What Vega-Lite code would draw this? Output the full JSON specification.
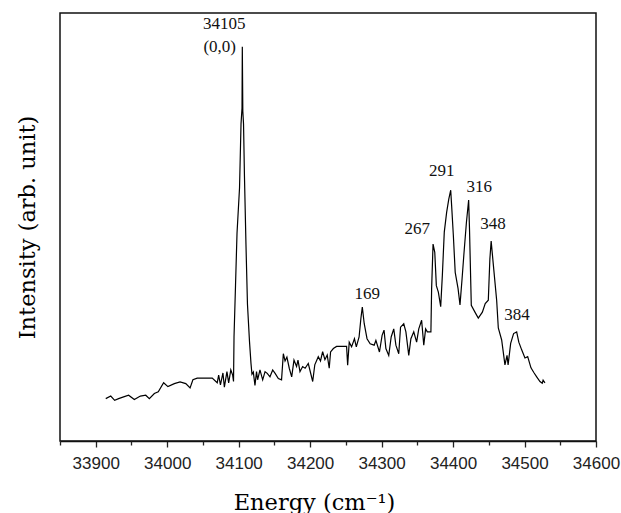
{
  "$schema": "https://vega.github.io/schema/vega-lite/v6.json",
  "width": 536,
  "height": 428,
  "autosize": "none",
  "padding": {"left": 60, "top": 13, "right": 25, "bottom": 72},
  "background": "white",
  "config": {
    "view": {"stroke": "#111", "strokeWidth": 1.5},
    "axis": {"grid": false}
  },
  "resolve": {"axis": {"x": "independent"}},
  "datasets": {
    "spectrum": [
      {"energy": 33914, "intensity": 9.9}, {"energy": 33921, "intensity": 10.5}, {"energy": 33926.5, "intensity": 9.5},
      {"energy": 33932, "intensity": 9.9}, {"energy": 33939, "intensity": 10.3}, {"energy": 33946, "intensity": 10.7},
      {"energy": 33954, "intensity": 9.7}, {"energy": 33962.5, "intensity": 10.5}, {"energy": 33970, "intensity": 10.7},
      {"energy": 33975, "intensity": 9.9}, {"energy": 33982, "intensity": 11.1}, {"energy": 33987.5, "intensity": 11.5},
      {"energy": 33995, "intensity": 13.6}, {"energy": 34001, "intensity": 12.7}, {"energy": 34010, "intensity": 13.4},
      {"energy": 34018, "intensity": 13.8}, {"energy": 34026, "intensity": 13.4}, {"energy": 34032, "intensity": 12.4},
      {"energy": 34036, "intensity": 14.3}, {"energy": 34042, "intensity": 14.7}, {"energy": 34063, "intensity": 14.7},
      {"energy": 34070, "intensity": 13.6}, {"energy": 34072, "intensity": 15.4}, {"energy": 34074.5, "intensity": 13.1},
      {"energy": 34078, "intensity": 15.9}, {"energy": 34080, "intensity": 12.6}, {"energy": 34083.6, "intensity": 16.2},
      {"energy": 34086, "intensity": 13.6}, {"energy": 34089, "intensity": 16.6}, {"energy": 34091.6, "intensity": 15.4},
      {"energy": 34092.8, "intensity": 13.9},
      {"energy": 34093.5, "intensity": 24.3}, {"energy": 34095.6, "intensity": 36.4}, {"energy": 34097.7, "intensity": 48.6},
      {"energy": 34101.2, "intensity": 59.1}, {"energy": 34103.3, "intensity": 74.1}, {"energy": 34104.7, "intensity": 77.8},
      {"energy": 34105.1, "intensity": 92.1}, {"energy": 34105.8, "intensity": 77.1}, {"energy": 34106.8, "intensity": 74.1},
      {"energy": 34108.1, "intensity": 61.9}, {"energy": 34110.2, "intensity": 46.0}, {"energy": 34112.3, "intensity": 32.0},
      {"energy": 34115.1, "intensity": 23.4}, {"energy": 34117.2, "intensity": 18.2}, {"energy": 34118.6, "intensity": 15.6},
      {"energy": 34120.5, "intensity": 16.1}, {"energy": 34122.8, "intensity": 13.0}, {"energy": 34125, "intensity": 16.2},
      {"energy": 34126.5, "intensity": 14.3}, {"energy": 34129.8, "intensity": 16.6}, {"energy": 34133.6, "intensity": 14.3},
      {"energy": 34136.9, "intensity": 16.2}, {"energy": 34140, "intensity": 15.8}, {"energy": 34143.8, "intensity": 15.0},
      {"energy": 34147.6, "intensity": 16.6}, {"energy": 34151, "intensity": 15.8}, {"energy": 34155.5, "intensity": 14.6},
      {"energy": 34160, "intensity": 14.3}, {"energy": 34162.5, "intensity": 20.4}, {"energy": 34164.9, "intensity": 18.7},
      {"energy": 34167.5, "intensity": 19.6}, {"energy": 34170.8, "intensity": 17.0}, {"energy": 34174.2, "intensity": 15.0},
      {"energy": 34177.4, "intensity": 18.9}, {"energy": 34181, "intensity": 17.4}, {"energy": 34183, "intensity": 18.9},
      {"energy": 34185.8, "intensity": 16.2}, {"energy": 34189.5, "intensity": 17.4}, {"energy": 34193, "intensity": 17.0},
      {"energy": 34197.4, "intensity": 18.1}, {"energy": 34203.6, "intensity": 13.9}, {"energy": 34206.5, "intensity": 17.8},
      {"energy": 34211.4, "intensity": 19.7}, {"energy": 34214.5, "intensity": 18.7}, {"energy": 34217.5, "intensity": 20.9},
      {"energy": 34220.7, "intensity": 19.0}, {"energy": 34223.9, "intensity": 20.1}, {"energy": 34226.7, "intensity": 17.0},
      {"energy": 34228.6, "intensity": 20.8}, {"energy": 34232.5, "intensity": 21.6}, {"energy": 34237, "intensity": 22.1},
      {"energy": 34251, "intensity": 22.1}, {"energy": 34252.5, "intensity": 17.7}, {"energy": 34254.7, "intensity": 23.1},
      {"energy": 34258, "intensity": 22.0}, {"energy": 34262, "intensity": 23.9}, {"energy": 34264.6, "intensity": 22.0},
      {"energy": 34268.5, "intensity": 24.3}, {"energy": 34271, "intensity": 28.6}, {"energy": 34273, "intensity": 31.3},
      {"energy": 34275.7, "intensity": 27.4}, {"energy": 34279.6, "intensity": 23.9}, {"energy": 34284, "intensity": 22.7},
      {"energy": 34289.6, "intensity": 22.4}, {"energy": 34292, "intensity": 23.5}, {"energy": 34297, "intensity": 20.8},
      {"energy": 34300.7, "intensity": 24.7}, {"energy": 34303.4, "intensity": 25.9}, {"energy": 34306, "intensity": 21.6},
      {"energy": 34310, "intensity": 20.0}, {"energy": 34313.4, "intensity": 24.3}, {"energy": 34317, "intensity": 26.2},
      {"energy": 34320, "intensity": 22.4}, {"energy": 34324, "intensity": 20.4}, {"energy": 34326.5, "intensity": 26.6},
      {"energy": 34331, "intensity": 27.4}, {"energy": 34334, "intensity": 25.5}, {"energy": 34338, "intensity": 20.0},
      {"energy": 34341, "intensity": 23.9}, {"energy": 34345, "intensity": 25.5}, {"energy": 34349, "intensity": 23.1},
      {"energy": 34352, "intensity": 26.2}, {"energy": 34356, "intensity": 28.2}, {"energy": 34359, "intensity": 22.4},
      {"energy": 34361.6, "intensity": 26.2}, {"energy": 34364, "intensity": 25.5}, {"energy": 34369, "intensity": 25.5},
      {"energy": 34370, "intensity": 35.6}, {"energy": 34372, "intensity": 46.0}, {"energy": 34374.4, "intensity": 44.1},
      {"energy": 34376.6, "intensity": 36.3}, {"energy": 34379.4, "intensity": 34.8}, {"energy": 34382.7, "intensity": 31.4},
      {"energy": 34385, "intensity": 38.7}, {"energy": 34387.7, "intensity": 48.8}, {"energy": 34391, "intensity": 53.4},
      {"energy": 34394, "intensity": 56.5}, {"energy": 34396.7, "intensity": 58.6}, {"energy": 34398, "intensity": 55.0},
      {"energy": 34400.4, "intensity": 48.0}, {"energy": 34403, "intensity": 39.4}, {"energy": 34407, "intensity": 35.6},
      {"energy": 34409.7, "intensity": 31.8}, {"energy": 34412.6, "intensity": 37.9}, {"energy": 34415, "intensity": 43.3},
      {"energy": 34418.7, "intensity": 51.1}, {"energy": 34421.8, "intensity": 56.3}, {"energy": 34423, "intensity": 49.5},
      {"energy": 34425.5, "intensity": 31.7}, {"energy": 34431, "intensity": 30.0}, {"energy": 34435.3, "intensity": 28.7},
      {"energy": 34441, "intensity": 30.1}, {"energy": 34445, "intensity": 32.1}, {"energy": 34449.3, "intensity": 32.9},
      {"energy": 34451.5, "intensity": 42.5}, {"energy": 34453.3, "intensity": 46.7}, {"energy": 34456, "intensity": 41.8},
      {"energy": 34461, "intensity": 32.9}, {"energy": 34463.3, "intensity": 26.4}, {"energy": 34468, "intensity": 23.6},
      {"energy": 34472.6, "intensity": 17.8}, {"energy": 34475.5, "intensity": 20.0}, {"energy": 34477, "intensity": 17.8},
      {"energy": 34480.6, "intensity": 22.8}, {"energy": 34484.7, "intensity": 25.1}, {"energy": 34489, "intensity": 25.5},
      {"energy": 34492, "intensity": 23.1}, {"energy": 34496, "intensity": 21.3}, {"energy": 34500.6, "intensity": 19.4},
      {"energy": 34504.4, "intensity": 19.7}, {"energy": 34509, "intensity": 17.1}, {"energy": 34513, "intensity": 16.0},
      {"energy": 34517, "intensity": 15.0}, {"energy": 34521.6, "intensity": 13.9}, {"energy": 34524.8, "intensity": 13.5},
      {"energy": 34526, "intensity": 14.2}, {"energy": 34528.6, "intensity": 13.6}
    ],
    "labels": [
      {"energy": 34080, "intensity": 97.5, "text": "34105"},
      {"energy": 34073.4, "intensity": 92.0, "text": "(0,0)"},
      {"energy": 34280, "intensity": 34.4, "text": "169"},
      {"energy": 34350, "intensity": 49.5, "text": "267"},
      {"energy": 34384, "intensity": 63.1, "text": "291"},
      {"energy": 34436.5, "intensity": 59.4, "text": "316"},
      {"energy": 34456, "intensity": 50.7, "text": "348"},
      {"energy": 34489.5, "intensity": 29.4, "text": "384"}
    ]
  },
  "layer": [
    {
      "data": {"name": "spectrum"},
      "mark": {"type": "line", "color": "#000", "strokeWidth": 1.2, "interpolate": "linear"},
      "encoding": {
        "x": {
          "field": "energy", "type": "quantitative",
          "scale": {"domain": [33850, 34600], "nice": false, "zero": false},
          "axis": {
            "orient": "bottom",
            "title": "Energy (cm⁻¹)",
            "titleFont": "DejaVu Serif", "titleFontSize": 22.5, "titleFontWeight": "normal", "titleColor": "#000",
            "titleX": 254, "titleY": 68, "titleBaseline": "alphabetic", "titleAlign": "center", "titleAnchor": "start",
            "values": [33900, 34000, 34100, 34200, 34300, 34400, 34500, 34600],
            "format": "d",
            "labelFont": "Liberation Sans", "labelFontSize": 17, "labelColor": "#222",
            "labelPadding": 8, "labelFlush": false, "labelOverlap": false,
            "tickSize": 6, "tickColor": "#222", "tickWidth": 1.3,
            "domainColor": "#111", "domainWidth": 1.5
          }
        },
        "y": {
          "field": "intensity", "type": "quantitative",
          "scale": {"domain": [0, 100], "nice": false},
          "axis": {
            "title": "Intensity (arb. unit)",
            "titleFont": "DejaVu Serif", "titleFontSize": 22.5, "titleFontWeight": "normal", "titleColor": "#000",
            "titlePadding": 21,
            "ticks": false, "labels": false, "domain": false
          }
        }
      }
    },
    {
      "data": {"name": "labels"},
      "mark": {"type": "text", "font": "Liberation Serif", "fontSize": 17, "color": "#111", "align": "center", "baseline": "middle"},
      "encoding": {
        "x": {
          "field": "energy", "type": "quantitative",
          "axis": {
            "orient": "bottom",
            "title": null,
            "values": [33850, 33950, 34050, 34150, 34250, 34350, 34450, 34550],
            "labels": false, "domain": false,
            "tickSize": 4, "tickColor": "#222", "tickWidth": 1.3
          }
        },
        "y": {"field": "intensity", "type": "quantitative"},
        "text": {"field": "text"}
      }
    }
  ]
}
